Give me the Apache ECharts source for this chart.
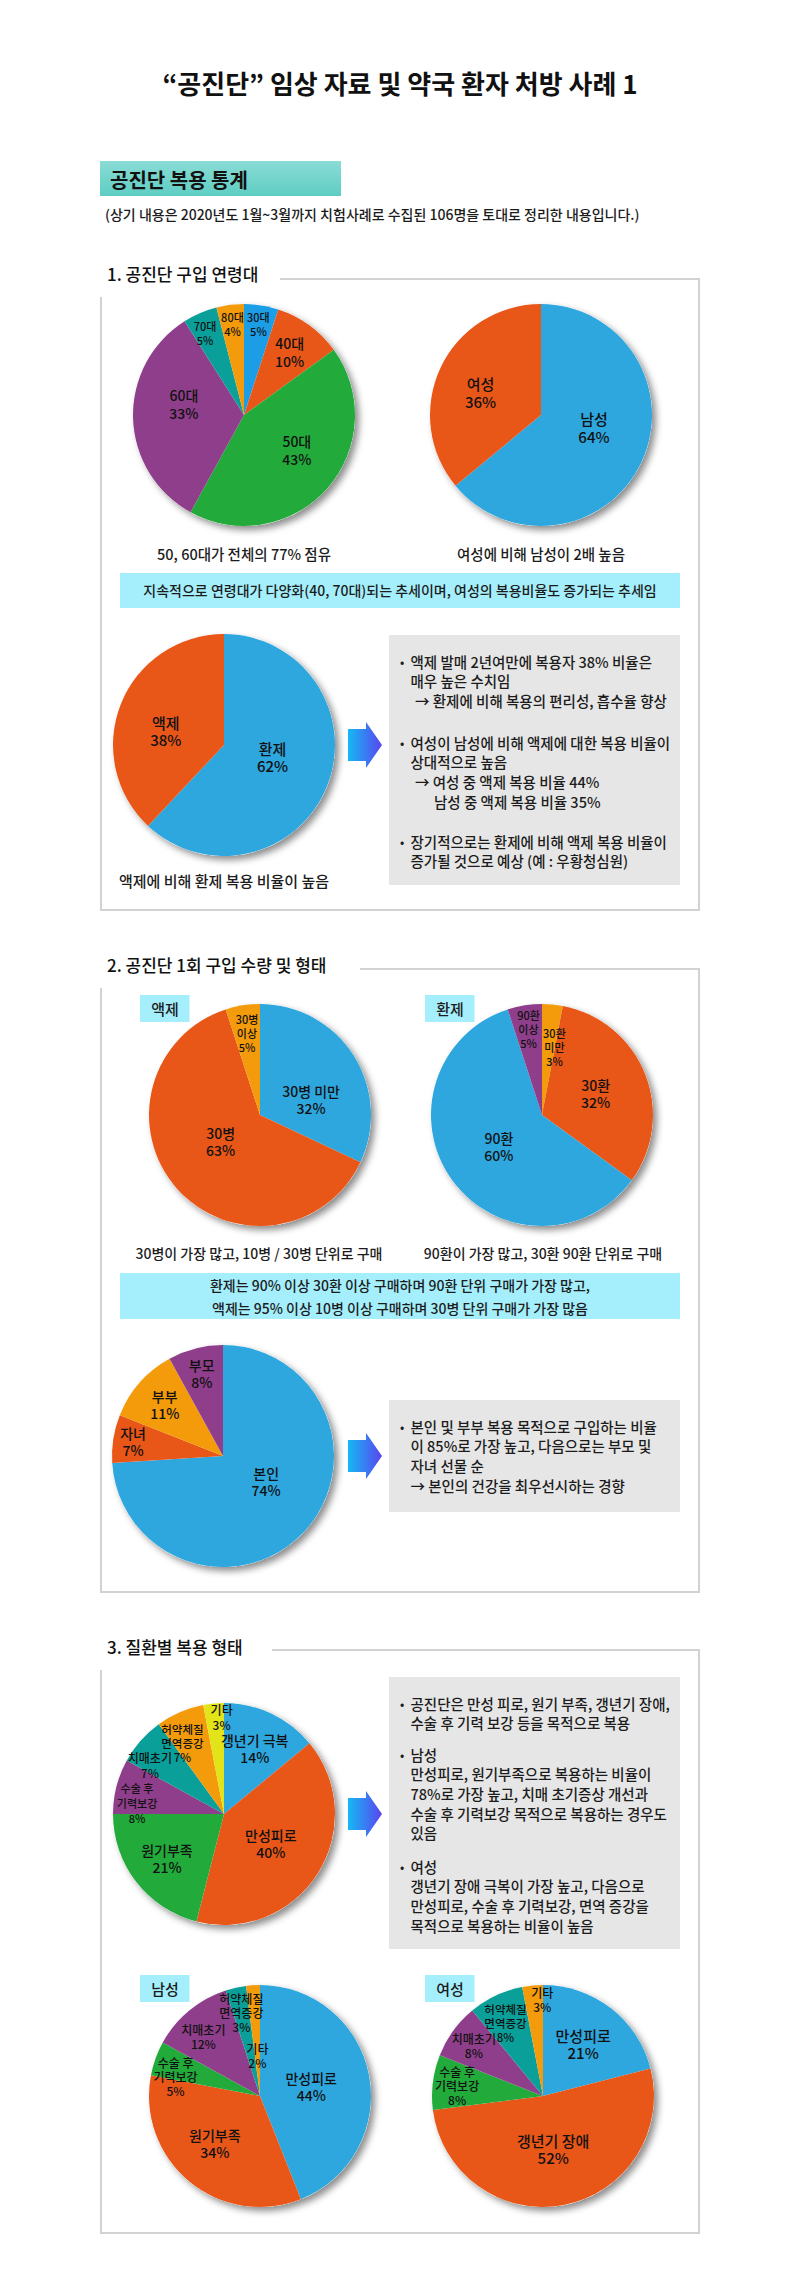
<!DOCTYPE html>
<html><head><meta charset="utf-8">
<script src="https://cdn.jsdelivr.net/npm/echarts@6/dist/echarts.min.js"></script>
<style>html,body{margin:0;padding:0;background:#fff}#c{width:800px;height:2296px}</style>
</head><body><div id="c"></div>
<script>
// ---------------- data ----------------
const ageNames = ['30대','40대','50대','60대','70대','80대'];
const ageValues = [5,10,43,33,5,4];
const genderNames = ['남성','여성'];
const genderValues = [64,36];
const formNames = ['환제','액제'];
const formValues = [62,38];
const liquidNames = ['30병 미만','30병','30병 이상'];
const liquidValues = [32,63,5];
const pillNames = ['30환 미만','30환','90환','90환 이상'];
const pillValues = [3,32,60,5];
const targetNames = ['본인','자녀','부부','부모'];
const targetValues = [74,7,11,8];
const purposeNames = ['갱년기 극복','만성피로','원기부족','수술 후 기력보강','치매초기','허약체질 면역증강','기타'];
const purposeValues = [14,40,21,8,7,7,3];
const maleNames = ['만성피로','원기부족','수술 후 기력보강','치매초기','허약체질 면역증강','기타'];
const maleValues = [44,34,5,12,3,2];
const femaleNames = ['만성피로','갱년기 장애','수술 후 기력보강','치매초기','허약체질 면역증강','기타'];
const femaleValues = [21,52,8,8,8,3];

// ---------------- style ----------------
const FONT = '"Noto Sans CJK KR", "Noto Sans", sans-serif';
const C = {blue:'#2ea6de', blue2:'#1c9ee6', red:'#e85618', green:'#22aa3b', purple:'#8e3e8a',
           teal:'#0a9f99', orange:'#f39b0b', yellow:'#e3e31a'};
const WRAP = {'수술 후 기력보강':'수술 후\n기력보강','허약체질 면역증강':'허약체질\n면역증강',
              '30병 이상':'30병\n이상','30환 미만':'30환\n미만','90환 이상':'90환\n이상'};

function pie(names, values, o) {
  const total = values.reduce((a,b)=>a+b,0);
  const mids = []; let acc = 0;
  values.forEach(v => { mids.push((acc + v/2) / total * 360); acc += v; });
  const R = o.r || 111;
  const shadow = {
    type:'pie', silent:true, z:1, center:o.c, radius:R, startAngle:90, animation:false,
    data:[{value:total, name:''}],
    itemStyle:{color:'#fff', shadowBlur:7, shadowOffsetX:4, shadowOffsetY:4, shadowColor:'rgba(0,0,0,0.45)'},
    label:{show:false}, labelLine:{show:false}, emphasis:{disabled:true}, tooltip:{show:false}
  };
  const main = {
    type:'pie', z:2, center:o.c, radius:R, startAngle:90, clockwise:true, animation:false,
    avoidLabelOverlap:false, emphasis:{disabled:true},
    data: names.map((n,i)=>({name:n, value:values[i], itemStyle:{color:o.colors[i]},
      label:{fontSize:o.fs[i], lineHeight:o.lh[i]}})),
    label:{show:true, position:'inside', color:'#111', fontFamily:FONT, fontWeight:500,
      formatter: p => (WRAP[p.name] || p.name) + '\n' + p.value + '%'},
    labelLine:{show:false},
    labelLayout: function(p){
      const i = p.dataIndex;
      const a = (mids[i] + (o.turn ? o.turn[i] : 0)) * Math.PI / 180;
      const rr = R * o.lr[i];
      return {x: o.c[0] + rr*Math.sin(a), y: o.c[1] - rr*Math.cos(a), align:'center', verticalAlign:'middle'};
    }
  };
  return [shadow, main];
}

function T(x, y, text, size, o) {
  o = o || {};
  return {type:'text', x:x, y:y, z:20, silent:true, style:{text:text, fontSize:size, fontFamily:FONT,
    fill:o.color||'#1c1c1c', fontWeight:o.weight||500, align:o.align||'left', verticalAlign:'middle',
    lineHeight:o.lh||Math.round(size*1.35)}};
}
function R(x, y, w, h, fill) {
  return {type:'rect', z:5, silent:true, shape:{x:x, y:y, width:w, height:h}, style:{fill:fill}};
}
function frame(pts) {
  return {type:'polyline', z:5, silent:true, shape:{points:pts}, style:{stroke:'#d2d2d2', lineWidth:2, fill:null}};
}
function arrow(cy) {
  return {type:'polygon', z:5, silent:true,
    shape:{points:[[348,cy-16],[366,cy-16],[366,cy-23],[382,cy],[366,cy+23],[366,cy+16],[348,cy+16]]},
    style:{fill:new echarts.graphic.LinearGradient(0,0,1,0,[{offset:0,color:'#14b9f6'},{offset:1,color:'#5b44ee'}])}};
}
function lines(x, y0, step, arr, size) {
  return arr.map((s,i)=>T(x, y0 + i*step, s, size));
}

const BLUEBAR = '#a5effc', GRAY = '#e6e6e6';
const els = [];
// header
els.push(T(400, 82, '“공진단” 임상 자료 및 약국 환자 처방 사례 1', 26, {align:'center', weight:'bold', color:'#111'}));
els.push({type:'rect', z:5, silent:true, shape:{x:100, y:161, width:241, height:35},
  style:{fill:new echarts.graphic.LinearGradient(0,0,0,1,[{offset:0,color:'#8adcd5'},{offset:1,color:'#5ecdc3'}])}});
els.push(T(110, 179, '공진단 복용 통계', 20, {weight:'bold', color:'#111'}));
els.push(T(105, 214, '(상기 내용은 2020년도 1월~3월까지 치험사례로 수집된 106명을 토대로 정리한 내용입니다.)', 14));

// section 1
els.push(T(107, 273, '1. 공진단 구입 연령대', 17, {color:'#111'}));
els.push(frame([[280,279],[699,279],[699,910],[101,910],[101,297]]));
els.push(T(244, 553, '50, 60대가 전체의 77% 점유', 14.5, {align:'center'}));
els.push(T(541, 553, '여성에 비해 남성이 2배 높음', 14.5, {align:'center'}));
els.push(R(120, 573, 560, 35, BLUEBAR));
els.push(T(400, 590, '지속적으로 연령대가 다양화(40, 70대)되는 추세이며, 여성의 복용비율도 증가되는 추세임', 14, {align:'center'}));
els.push(T(224, 880, '액제에 비해 환제 복용 비율이 높음', 15, {align:'center'}));
els.push(arrow(745));
els.push(R(389, 635, 291, 250, GRAY));
els.push(T(400, 661, '•', 12), T(400, 742, '•', 12), T(400, 841, '•', 12));
els.push(...lines(410.5, 661, 19.6, ['액제 발매 2년여만에 복용자 38% 비율은','매우 높은 수치임'], 14.5));
els.push(T(415, 700, '→ 환제에 비해 복용의 편리성, 흡수율 향상', 14.5));
els.push(...lines(410.5, 742, 19.6, ['여성이 남성에 비해 액제에 대한 복용 비율이','상대적으로 높음'], 14.5));
els.push(T(415, 781, '→ 여성 중 액제 복용 비율 44%', 14.5));
els.push(T(434, 801, '남성 중 액제 복용 비율 35%', 14.5));
els.push(...lines(410.5, 841, 19.6, ['장기적으로는 환제에 비해 액제 복용 비율이','증가될 것으로 예상 (예 : 우황청심원)'], 14.5));

// section 2
els.push(T(107, 964, '2. 공진단 1회 구입 수량 및 형태', 17, {color:'#111'}));
els.push(frame([[360,969],[699,969],[699,1592],[101,1592],[101,988]]));
els.push(R(140, 995, 49.5, 27, BLUEBAR), T(165, 1008.5, '액제', 15, {align:'center'}));
els.push(R(425, 995, 49.5, 27, BLUEBAR), T(450, 1008.5, '환제', 15, {align:'center'}));
els.push(T(259, 1253, '30병이 가장 많고, 10병 / 30병 단위로 구매', 14, {align:'center'}));
els.push(T(543, 1253, '90환이 가장 많고, 30환 90환 단위로 구매', 14, {align:'center'}));
els.push(R(120, 1273, 560, 46, BLUEBAR));
els.push(T(400, 1285, '환제는 90% 이상 30환 이상 구매하며 90환 단위 구매가 가장 많고,', 14, {align:'center'}));
els.push(T(400, 1308, '액제는 95% 이상 10병 이상 구매하며 30병 단위 구매가 가장 많음', 14, {align:'center'}));
els.push(arrow(1456));
els.push(R(389, 1400, 291, 112, GRAY));
els.push(T(400, 1426, '•', 12));
els.push(...lines(410.5, 1426, 19.7, ['본인 및 부부 복용 목적으로 구입하는 비율','이 85%로 가장 높고, 다음으로는 부모 및','자녀 선물 순','→ 본인의 건강을 최우선시하는 경향'], 14.5));

// section 3
els.push(T(107, 1646, '3. 질환별 복용 형태', 17, {color:'#111'}));
els.push(frame([[272,1650],[699,1650],[699,2233],[101,2233],[101,1670]]));
els.push(arrow(1814));
els.push(R(389, 1677, 291, 272, GRAY));
els.push(T(400, 1703, '•', 12), T(400, 1754, '•', 12), T(400, 1866, '•', 12));
els.push(...lines(410.5, 1703, 19.5, ['공진단은 만성 피로, 원기 부족, 갱년기 장애,','수술 후 기력 보강 등을 목적으로 복용'], 14.5));
els.push(...lines(410.5, 1754, 19.7, ['남성','만성피로, 원기부족으로 복용하는 비율이','78%로 가장 높고, 치매 초기증상 개선과','수술 후 기력보강 목적으로 복용하는 경우도','있음'], 14.5));
els.push(...lines(410.5, 1866, 19.7, ['여성','갱년기 장애 극복이 가장 높고, 다음으로','만성피로, 수술 후 기력보강, 면역 증강을','목적으로 복용하는 비율이 높음'], 14.5));
els.push(R(140, 1975, 49.5, 27, BLUEBAR), T(165, 1988.5, '남성', 15, {align:'center'}));
els.push(R(425, 1975, 49.5, 27, BLUEBAR), T(450, 1988.5, '여성', 15, {align:'center'}));

const series = [].concat(
  pie(ageNames, ageValues, {c:[244,415], colors:[C.blue2,C.red,C.green,C.purple,C.teal,C.orange],
    lr:[0.83,0.70,0.57,0.55,0.82,0.83], turn:[0,0,-8,12,-2,0], fs:[11,14,14,14,11,11], lh:[14,18,18,18,14,14]}),
  pie(genderNames, genderValues, {c:[541,415], colors:[C.blue,C.red],
    lr:[0.49,0.58], turn:[-12,-5], fs:[15,15], lh:[18,18]}),
  pie(formNames, formValues, {c:[224,745], colors:[C.blue,C.red],
    lr:[0.45,0.54], turn:[-8,-8], fs:[15,15], lh:[17,17]}),
  pie(liquidNames, liquidValues, {c:[260,1115], colors:[C.blue,C.red,C.orange],
    lr:[0.48,0.43,0.75], turn:[16,7,0], fs:[14,14,11], lh:[17,17,14]}),
  pie(pillNames, pillValues, {c:[542,1115], colors:[C.orange,C.red,C.blue,C.purple],
    lr:[0.62,0.52,0.48,0.78], turn:[5,0,0,0], fs:[11,14,14,11], lh:[14,17,17,14]}),
  pie(targetNames, targetValues, {c:[223,1456], colors:[C.blue,C.red,C.orange,C.purple],
    lr:[0.45,0.82,0.70,0.77], turn:[-13,0,0,0], fs:[14,14,14,14], lh:[17,17,17,17]}),
  pie(purposeNames, purposeValues, {c:[224,1814], colors:[C.blue,C.red,C.green,C.purple,C.teal,C.orange,C.yellow],
    lr:[0.65,0.50,0.65,0.79,0.80,0.74,0.87], turn:[0,0,0,-7,-8,-7,4], fs:[14,14,14,11,12,11.5,12], lh:[17,17,17,15,15,14,15]}),
  pie(maleNames, maleValues, {c:[260,2096], colors:[C.blue,C.red,C.green,C.purple,C.teal,C.orange],
    lr:[0.47,0.59,0.78,0.74,0.77,0.37], turn:[0,4,-7,-4,0,0], fs:[14,14,12,12,12,12], lh:[17,17,14,14,14,14]}),
  pie(femaleNames, femaleValues, {c:[543,2096], colors:[C.blue,C.red,C.green,C.purple,C.teal,C.orange],
    lr:[0.59,0.49,0.78,0.77,0.74,0.87], turn:[0,0,0,0,-2,5], fs:[15,15,12,12,11.5,12], lh:[17,17,14,14,14,14]})
);

const chart = echarts.init(document.getElementById('c'), null, {renderer:'svg', width:800, height:2296});
chart.setOption({
  backgroundColor:'#fff',
  animation:false,
  textStyle:{fontFamily:FONT},
  graphic:{elements:els},
  series:series
});
</script>
</body></html>
